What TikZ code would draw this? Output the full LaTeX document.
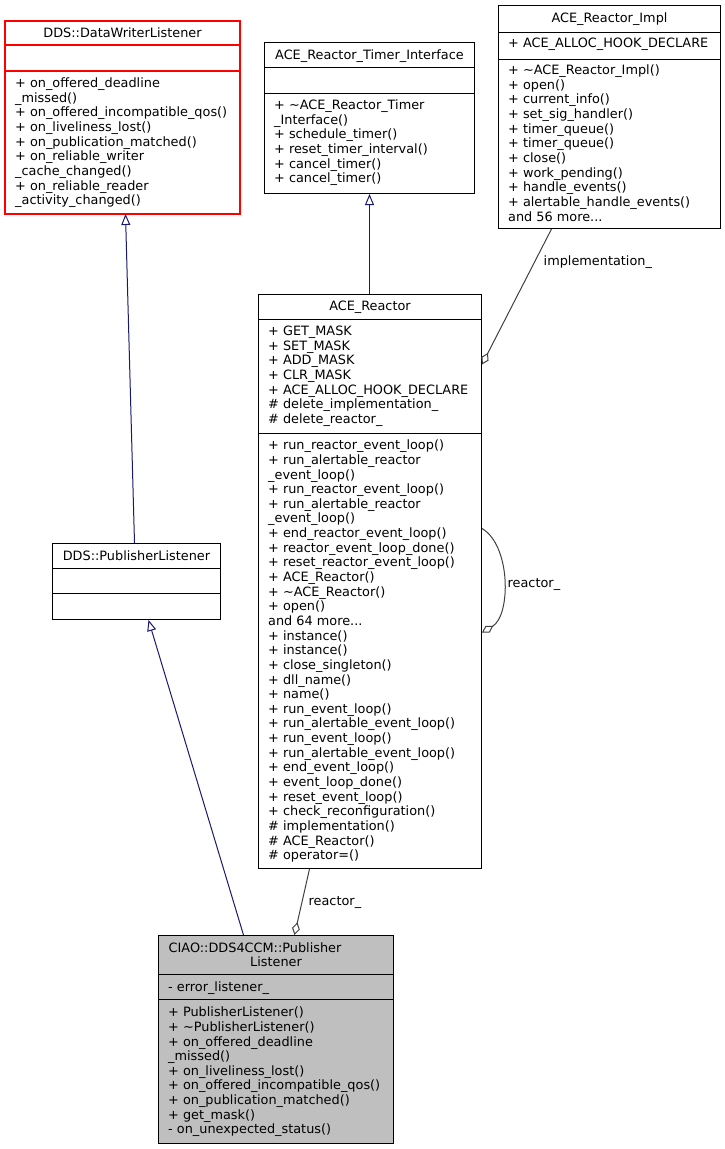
\documentclass[tikz,border=0pt]{standalone}
\usepackage{fontspec}
\setmainfont{DejaVu Sans}
\usetikzlibrary{arrows.meta,calc}
\definecolor{inhcol}{RGB}{25,25,112}
\definecolor{aggcol}{RGB}{64,64,64}
\definecolor{boxred}{RGB}{255,0,0}
\definecolor{curfill}{RGB}{191,191,191}
\newcommand\firstln{\rule{0pt}{10bp}}
\newcommand\umlfont{\fontsize{12.9}{14.7}\selectfont}
\tikzset{
 cls/.style={line width=1bp, rectangle, inner sep=0pt, fill=white},
 divline/.style={line width=1bp},
 redline/.style={draw=boxred, line width=1.3bp},
 txt/.style={anchor=north west, inner sep=0pt, align=left, font=\umlfont},
 ttl/.style={anchor=base, inner sep=0pt, font=\umlfont},
 lbl/.style={anchor=base west, inner sep=0pt, font=\umlfont},
 inherit/.style={draw=inhcol, line width=1bp, -{Triangle[open, length=11bp, width=9bp, fill=white]}},
 aggr/.style={draw=aggcol, line width=1bp, -{Diamond[open, length=13bp, width=8bp, fill=white]}},
}
\begin{document}
\begin{tikzpicture}[x=1bp,y=-1bp]
\useasboundingbox (0,0) rectangle (725,1149);
\begin{scope}[shift={(0.5,0.5)}]
% ---------- DDS::DataWriterListener
\node[cls, minimum width=234bp, minimum height=192bp] (dwl) at (122,117) {};
\draw[redline] (dwl.north west) rectangle (dwl.south east);
\draw[redline] ([yshift=0.5bp]dwl.west |- 0,45) -- ([yshift=0.5bp]dwl.east |- 0,45);
\draw[redline] ([yshift=0.5bp]dwl.west |- 0,71) -- ([yshift=0.5bp]dwl.east |- 0,71);
\node[ttl] (dwlt) at (122,37) {DDS::DataWriterListener};
\node[txt] (dwlm) at (14.5,77) {\firstln+ on\_offered\_deadline\\
\_missed()\\
+ on\_offered\_incompatible\_qos()\\
+ on\_liveliness\_lost()\\
+ on\_publication\_matched()\\
+ on\_reliable\_writer\\
\_cache\_changed()\\
+ on\_reliable\_reader\\
\_activity\_changed()};

% ---------- ACE_Reactor_Timer_Interface
\node[cls, draw=black, minimum width=210bp, minimum height=151bp] (tim) at (369,117.5) {};
\draw[divline, black] (tim.west |- 0,67) -- (tim.east |- 0,67);
\draw[divline, black] (tim.west |- 0,93) -- (tim.east |- 0,93);
\node[ttl] (timt) at (369,58.5) {ACE\_Reactor\_Timer\_Interface};
\node[txt] (timm) at (273.5,99) {\firstln+ \textasciitilde ACE\_Reactor\_Timer\\
\_Interface()\\
+ schedule\_timer()\\
+ reset\_timer\_interval()\\
+ cancel\_timer()\\
+ cancel\_timer()};

% ---------- ACE_Reactor_Impl
\node[cls, draw=black, minimum width=222bp, minimum height=223bp] (impl) at (609,116.5) {};
\draw[divline, black] (impl.west |- 0,32) -- (impl.east |- 0,32);
\draw[divline, black] (impl.west |- 0,59) -- (impl.east |- 0,59);
\node[ttl] (implt) at (609,22) {ACE\_Reactor\_Impl};
\node[txt] (impla) at (507.5,37) {\firstln+ ACE\_ALLOC\_HOOK\_DECLARE};
\node[txt] (implm) at (507.5,64) {\firstln+ \textasciitilde ACE\_Reactor\_Impl()\\
+ open()\\
+ current\_info()\\
+ set\_sig\_handler()\\
+ timer\_queue()\\
+ timer\_queue()\\
+ close()\\
+ work\_pending()\\
+ handle\_events()\\
+ alertable\_handle\_events()\\
and 56 more...};

% ---------- ACE_Reactor
\node[cls, draw=black, minimum width=223bp, minimum height=574bp] (acer) at (369.5,581) {};
\draw[divline, black] (acer.west |- 0,319) -- (acer.east |- 0,319);
\draw[divline, black] (acer.west |- 0,433) -- (acer.east |- 0,433);
\node[ttl] (acert) at (369.5,310) {ACE\_Reactor};
\node[txt] (acera) at (267.5,325) {\firstln+ GET\_MASK\\
+ SET\_MASK\\
+ ADD\_MASK\\
+ CLR\_MASK\\
+ ACE\_ALLOC\_HOOK\_DECLARE\\
\# delete\_implementation\_\\
\# delete\_reactor\_};
\node[txt] (acerm) at (267.5,439) {\firstln+ run\_reactor\_event\_loop()\\
+ run\_alertable\_reactor\\
\_event\_loop()\\
+ run\_reactor\_event\_loop()\\
+ run\_alertable\_reactor\\
\_event\_loop()\\
+ end\_reactor\_event\_loop()\\
+ reactor\_event\_loop\_done()\\
+ reset\_reactor\_event\_loop()\\
+ ACE\_Reactor()\\
+ \textasciitilde ACE\_Reactor()\\
+ open()\\
and 64 more...\\
+ instance()\\
+ instance()\\
+ close\_singleton()\\
+ dll\_name()\\
+ name()\\
+ run\_event\_loop()\\
+ run\_alertable\_event\_loop()\\
+ run\_event\_loop()\\
+ run\_alertable\_event\_loop()\\
+ end\_event\_loop()\\
+ event\_loop\_done()\\
+ reset\_event\_loop()\\
+ check\_reconfiguration()\\
\# implementation()\\
\# ACE\_Reactor()\\
\# operator=()};

% ---------- DDS::PublisherListener
\node[cls, draw=black, minimum width=168bp, minimum height=76bp] (dpl) at (136,581) {};
\draw[divline, black] (dpl.west |- 0,568) -- (dpl.east |- 0,568);
\draw[divline, black] (dpl.west |- 0,593) -- (dpl.east |- 0,593);
\node[ttl] (dplt) at (136,559.5) {DDS::PublisherListener};

% ---------- CIAO::DDS4CCM::PublisherListener
\node[cls, draw=black, fill=curfill, minimum width=235bp, minimum height=208bp] (ciao) at (275.5,1039) {};
\draw[divline, black] (ciao.west |- 0,974) -- (ciao.east |- 0,974);
\draw[divline, black] (ciao.west |- 0,999) -- (ciao.east |- 0,999);
\node[lbl] (ciaot1) at (168,952) {CIAO::DDS4CCM::Publisher};
\node[ttl] (ciaot2) at (275.5,966) {Listener};
\node[txt] (ciaoa) at (167.5,981) {\firstln- error\_listener\_};
\node[txt] (ciaom) at (167.5,1006) {\firstln+ PublisherListener()\\
+ \textasciitilde PublisherListener()\\
+ on\_offered\_deadline\\
\_missed()\\
+ on\_liveliness\_lost()\\
+ on\_offered\_incompatible\_qos()\\
+ on\_publication\_matched()\\
+ get\_mask()\\
- on\_unexpected\_status()};

% ---------- inheritance
\draw[inherit] ([xshift=-2bp]dpl.north) -- ([xshift=3bp]dwl.south);
\draw[inherit] ([xshift=-32.5bp]ciao.north) -- ([xshift=12bp]dpl.south);
\draw[inherit] ([xshift=-0.5bp]acer.north) -- (tim.south);

% ---------- aggregation
\draw[aggr] ([xshift=-58bp]impl.south) -- ([yshift=217bp]acer.east);
\node[lbl] (limpl) at (543,265) {implementation\_};
\draw[aggr] ([yshift=53bp]acer.east) .. controls +(29,17) and +(29,-17) .. ([yshift=-51bp]acer.east);
\node[lbl] (lself) at (507,587) {reactor\_};
\draw[aggr] ([xshift=-60.5bp]acer.south) -- ([xshift=18.5bp]ciao.north);
\node[lbl] (lciao) at (308,905) {reactor\_};
\end{scope}
\end{tikzpicture}
\end{document}
